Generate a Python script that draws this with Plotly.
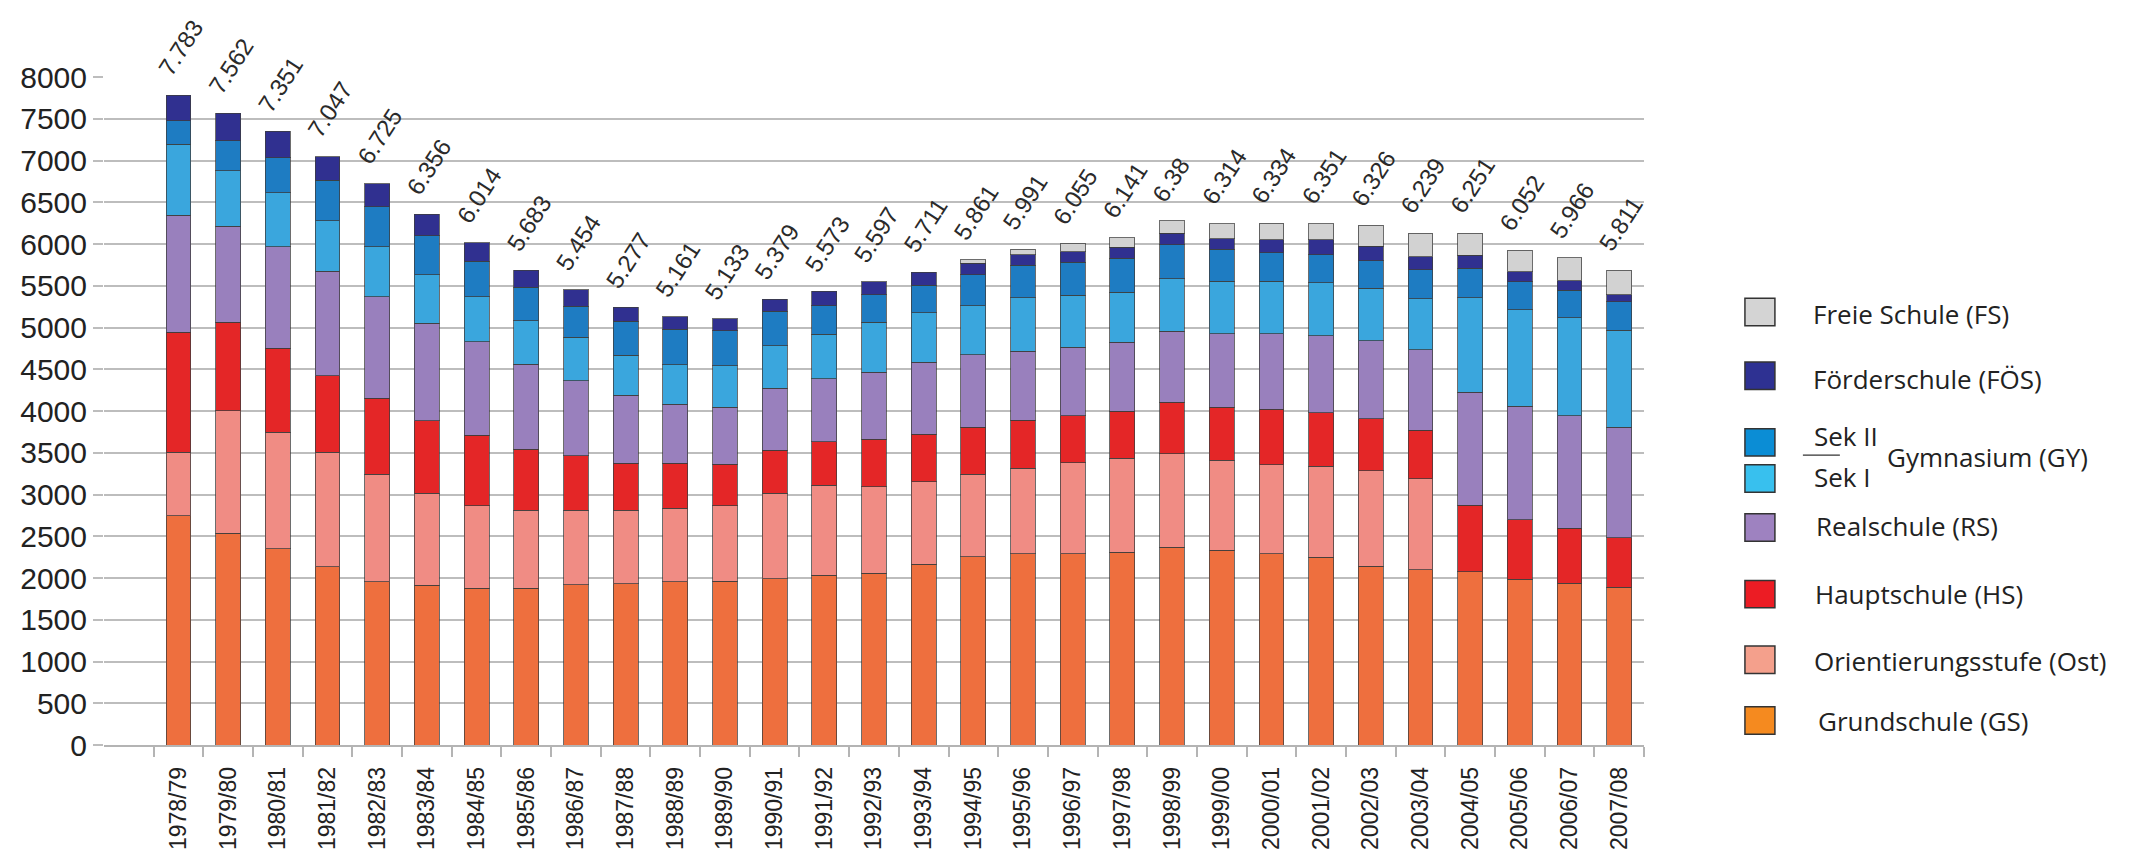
import plotly.graph_objects as go

years = [
    "1978/79", "1979/80", "1980/81", "1981/82", "1982/83", "1983/84", "1984/85",
    "1985/86", "1986/87", "1987/88", "1988/89", "1989/90", "1990/91", "1991/92",
    "1992/93", "1993/94", "1994/95", "1995/96", "1996/97", "1997/98", "1998/99",
    "1999/00", "2000/01", "2001/02", "2002/03", "2003/04", "2004/05", "2005/06",
    "2006/07", "2007/08",
]

# Schülerzahlen je Schulart (von unten nach oben gestapelt)
grundschule = [2746, 2533, 2350, 2136, 1958, 1912, 1879, 1875, 1920, 1933, 1954, 1962, 1991, 2033, 2054,
               2165, 2256, 2293, 2288, 2311, 2370, 2334, 2293, 2247, 2142, 2096, 2074, 1983, 1937, 1892]
orientierung = [758, 1470, 1398, 1368, 1282, 1102, 989, 935, 890, 877, 881, 906, 1023, 1077, 1036,
                989, 989, 1021, 1094, 1121, 1117, 1075, 1066, 1089, 1140, 1095, None, None, None, None]
hauptschule = [1440, 1058, 1002, 921, 915, 869, 839, 730, 655, 563, 538, 493, 514, 522, 571,
               570, 561, 574, 561, 565, 615, 638, 661, 643, 624, 579, 797, 715, 661, 592]
realschule = [1403, 1154, 1216, 1246, 1211, 1165, 1123, 1019, 898, 815, 706, 685, 743, 752, 806,
              857, 866, 829, 820, 825, 853, 876, 903, 921, 935, 961, 1354, 1359, 1345, 1322]
sek1 = [850, 661, 646, 610, 600, 584, 539, 522, 518, 480, 472, 496, 509, 534, 593,
        597, 588, 639, 625, 602, 629, 629, 629, 638, 629, 615, 1131, 1153, 1176, 1162]
sek2 = [279, 361, 422, 483, 478, 464, 422, 401, 371, 405, 426, 422, 414, 343, 334,
        328, 374, 387, 396, 406, 410, 383, 342, 333, 332, 347, 355, 338, 328, 342]
foerderschule = [307, 326, 315, 280, 275, 262, 225, 201, 202, 167, 150, 138, 146, 171, 155,
                 155, 136, 128, 123, 132, 132, 127, 155, 178, 169, 155, 155, 118, 114, 82]
freie_schule = [None] * 16 + [41, 68, 96, 114, 150, 182, 200, 195, 251, 283, 265, 259, 273, 292]

total_labels = [
    "7.783", "7.562", "7.351", "7.047", "6.725", "6.356", "6.014", "5.683", "5.454", "5.277",
    "5.161", "5.133", "5.379", "5.573", "5.597", "5.711", "5.861", "5.991", "6.055", "6.141",
    "6.38", "6.314", "6.334", "6.351", "6.326", "6.239", "6.251", "6.052", "5.966", "5.811",
]

series = [
    ("Grundschule (GS)", grundschule, "#EE6F3E"),
    ("Orientierungsstufe (Ost)", orientierung, "#F08C84"),
    ("Hauptschule (HS)", hauptschule, "#E42627"),
    ("Realschule (RS)", realschule, "#9980BD"),
    ("Sek I", sek1, "#3AA6DD"),
    ("Sek II", sek2, "#1E7CC2"),
    ("Förderschule (FÖS)", foerderschule, "#303090"),
    ("Freie Schule (FS)", freie_schule, "#D2D2D2"),
]

fig = go.Figure()
for name, values, color in series:
    fig.add_trace(go.Bar(
        x=years, y=values, name=name,
        marker=dict(color=color, line=dict(color="rgba(60,60,60,0.75)", width=1)),
    ))

totals = [sum(v[i] or 0 for _, v, _ in series) for i in range(len(years))]
for year, total, label in zip(years, totals, total_labels):
    fig.add_annotation(
        x=year, y=total, text=label, showarrow=False, textangle=-57,
        xanchor="left", yanchor="bottom", xshift=-28, yshift=12,
        font=dict(family="Liberation Sans", size=24, color="#2a2a2a"),
    )

# hand-drawn legend on the right (pixel positions converted to paper coords)
L, R, B, T = 95, 1636, 751, 69


def px(xp):
    return (xp - L) / (R - L)


def py(yp):
    return (B - yp) / (B - T)


legend_items = [
    ("Freie Schule (FS)", "#D4D4D4", 309, 1803, 311),
    ("Förderschule (FÖS)", "#2E3192", 374, 1803, 377),
    ("Sek II", "#0B8DD5", 442, 1804, 436),
    ("Sek I", "#38C0EE", 479, 1804, 477),
    ("Realschule (RS)", "#9E82C0", 529, 1806, 527),
    ("Hauptschule (HS)", "#EC1C24", 597, 1805, 597),
    ("Orientierungsstufe (Ost)", "#F4A08C", 664, 1804, 665),
    ("Grundschule (GS)", "#F58A1F", 726, 1808, 727),
]
legend_font = dict(family="Open Sans", size=26, color="#222222")
for text, color, sy, tx, ty in legend_items:
    fig.add_shape(
        type="rect", xref="paper", yref="paper",
        x0=px(1737), x1=px(1767), y0=py(sy + 14), y1=py(sy - 14),
        fillcolor=color, line=dict(color="#333333", width=1.5),
    )
    fig.add_annotation(
        xref="paper", yref="paper", x=px(tx), y=py(ty), text=text,
        showarrow=False, xanchor="left", yanchor="middle", font=legend_font,
    )
fig.add_shape(
    type="line", xref="paper", yref="paper",
    x0=px(1795), x1=px(1832), y0=py(455), y1=py(455),
    line=dict(color="#333333", width=1.2),
)
fig.add_annotation(
    xref="paper", yref="paper", x=px(1877), y=py(457), text="Gymnasium (GY)",
    showarrow=False, xanchor="left", yanchor="middle", font=legend_font,
)
# tick at the left edge of the empty first slot
fig.add_shape(
    type="line", xref="x", yref="y", x0=-1.5, x1=-1.5,
    ysizemode="pixel", yanchor=0, y0=0, y1=-10,
    line=dict(color="#B4B4B4", width=1.5),
)

fig.update_layout(
    width=2131, height=854,
    barmode="stack", bargap=0.5,
    showlegend=False,
    plot_bgcolor="white", paper_bgcolor="white",
    margin=dict(l=L, r=2131 - R, t=T, b=854 - B, pad=0),
    font=dict(family="Liberation Sans", color="#222222"),
)
fig.update_xaxes(
    type="category", range=[-1.5, 29.5],
    tickangle=-90, tickfont=dict(size=23), ticklabelstandoff=11,
    ticks="outside", tickson="boundaries", ticklen=10, tickcolor="#B4B4B4", tickwidth=1.5,
    showline=True, linecolor="#B4B4B4", linewidth=1.5,
    showgrid=False,
)
fig.update_yaxes(
    range=[0, 8000], dtick=500,
    tickfont=dict(size=30),
    ticks="outside", ticklen=10, tickcolor="#BDBDBD", tickwidth=1.5,
    showgrid=True, gridcolor="#BDBDBD", gridwidth=1.5,
    zeroline=False, showline=False,
)

fig.write_html("out.html")
